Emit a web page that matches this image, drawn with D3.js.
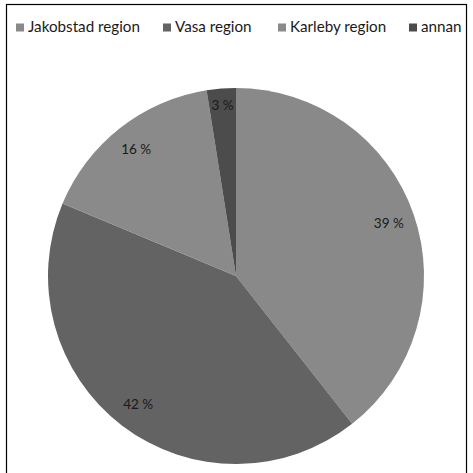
<!DOCTYPE html>
<html><head><meta charset="utf-8">
<script src="https://cdn.jsdelivr.net/npm/d3@7/dist/d3.min.js"></script>
<style>body{margin:0;background:#fff}svg{display:block}</style>
</head><body>
<script>
const categories = ["Jakobstad region", "Vasa region", "Karleby region", "annan"];
const values = [39.4, 41.9, 16.2, 2.5];
const labels = ["39 %", "42 %", "16 %", "3 %"];
const colors = ["#898989", "#636363", "#8a8a8a", "#4c4c4c"];

const W = 473, H = 473;
const svg = d3.select("body").append("svg").attr("width", W).attr("height", H);
svg.append("rect").attr("width", W).attr("height", H).attr("fill", "#fff");
svg.append("rect").attr("x", 6.5).attr("y", 4.5).attr("width", 460).attr("height", 490)
  .attr("fill", "none").attr("stroke", "#000").attr("stroke-width", 1.2);

const cx = 236, cy = 276, r = 188;
const pie = d3.pie().sort(null).value(d => d)(values);
const arc = d3.arc().innerRadius(0).outerRadius(r);
const g = svg.append("g").attr("transform", `translate(${cx},${cy})`);
g.selectAll("path").data(pie).join("path")
  .attr("d", arc).attr("fill", (d, i) => colors[i]);

g.selectAll("text").data(pie).join("text")
  .attr("transform", d => {
    const frac = (d.endAngle - d.startAngle) / (2 * Math.PI);
    const lr = frac < 0.05 ? r * 0.91 : r * 0.86;
    const a = (d.startAngle + d.endAngle) / 2;
    return `translate(${lr * Math.sin(a)},${-lr * Math.cos(a)})`;
  })
  .attr("text-anchor", "middle").attr("dy", "0.35em")
  .attr("font-family", "Lato, 'Open Sans', sans-serif").attr("font-size", 13.5)
  .attr("fill", "#1a1a1a")
  .text((d, i) => labels[i]);

const legendX = [16, 163, 278, 409];
const lg = svg.append("g");
categories.forEach((c, i) => {
  lg.append("rect").attr("x", legendX[i]).attr("y", 23.5).attr("width", 8).attr("height", 8)
    .attr("fill", colors[i]);
  lg.append("text").attr("x", legendX[i] + 12).attr("y", 32)
    .attr("font-family", "Lato, 'Open Sans', sans-serif").attr("font-size", 15.2)
    .attr("fill", "#1a1a1a").text(c);
});
</script>
</body></html>
